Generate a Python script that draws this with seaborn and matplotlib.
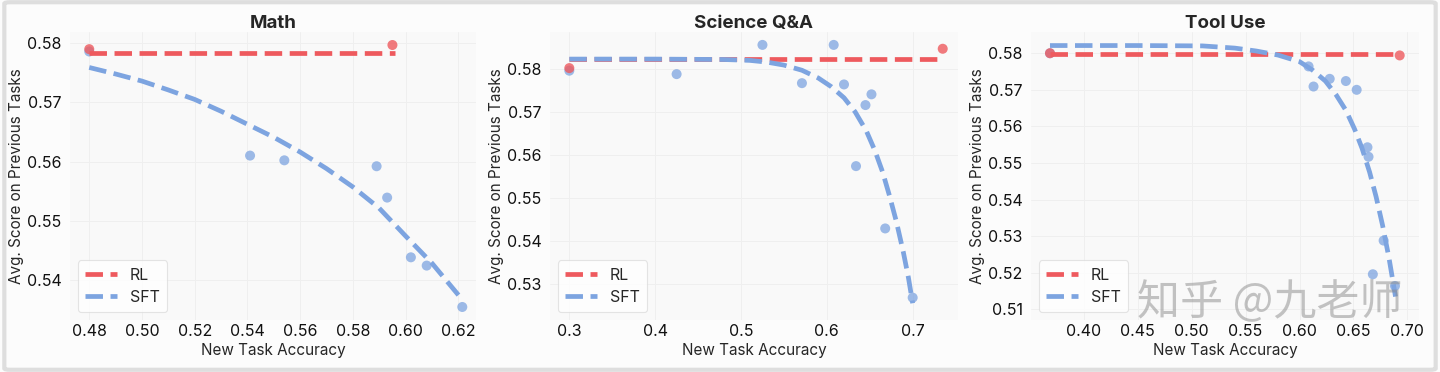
import seaborn as sns
import numpy as np
import matplotlib.pyplot as plt
import pandas as pd
from matplotlib.lines import Line2D
from matplotlib.patches import FancyBboxPatch

# ---------------- data ----------------
# Math
math_rl_x = [0.480, 0.595]
math_rl_y = [0.5790, 0.5797]
math_rl_fit_x = [0.480, 0.596]
math_rl_fit_y = [0.5783, 0.5783]
math_sft_x = [0.480, 0.541, 0.554, 0.589, 0.593, 0.602, 0.608, 0.6215]
math_sft_y = [0.5786, 0.5610, 0.5602, 0.5592, 0.5539, 0.5438, 0.5424, 0.5354]
math_fit_x = [0.480, 0.490, 0.500, 0.510, 0.520, 0.530, 0.540, 0.550, 0.560, 0.570,
              0.580, 0.590, 0.600, 0.610, 0.621]
math_fit_y = [0.5759, 0.5748, 0.5736, 0.5721, 0.5705, 0.5685, 0.5663, 0.5641, 0.5616, 0.5588,
              0.5557, 0.5521, 0.5474, 0.5428, 0.5369]

# Science Q&A
sci_rl_x = [0.300, 0.735]
sci_rl_y = [0.5802, 0.5847]
sci_rl_fit_x = [0.300, 0.735]
sci_rl_fit_y = [0.58225, 0.58225]
sci_sft_x = [0.300, 0.425, 0.525, 0.571, 0.608, 0.620, 0.634, 0.645, 0.652, 0.668, 0.700]
sci_sft_y = [0.5796, 0.5788, 0.5856, 0.5767, 0.5856, 0.5764, 0.5574, 0.5716, 0.5741, 0.5429, 0.5268]
sci_fit_x = [0.300, 0.400, 0.480, 0.510, 0.530, 0.550, 0.571, 0.590, 0.605, 0.620, 0.633,
             0.646, 0.656, 0.665, 0.673, 0.681, 0.689, 0.695, 0.700]
sci_fit_y = [0.5823, 0.5823, 0.5822, 0.5820, 0.5816, 0.5809, 0.5797, 0.5779, 0.5759, 0.5733, 0.5700,
             0.5656, 0.5610, 0.5560, 0.5505, 0.5445, 0.5375, 0.5315, 0.5255]

# Tool Use
tool_rl_x = [0.3686, 0.6929]
tool_rl_y = [0.5800, 0.5794]
tool_rl_fit_x = [0.3686, 0.6929]
tool_rl_fit_y = [0.5797, 0.5797]
tool_sft_x = [0.3686, 0.6084, 0.613, 0.628, 0.643, 0.653, 0.663, 0.664, 0.668, 0.678, 0.6885]
tool_sft_y = [0.5800, 0.5764, 0.5709, 0.5730, 0.5724, 0.5700, 0.5543, 0.5517, 0.5196, 0.5288, 0.5164]
tool_fit_x = [0.3686, 0.450, 0.510, 0.540, 0.560, 0.580, 0.600, 0.612, 0.624, 0.634, 0.643,
              0.651, 0.658, 0.665, 0.671, 0.677, 0.683, 0.689]
tool_fit_y = [0.5821, 0.5821, 0.5820, 0.5814, 0.5806, 0.5795, 0.5777, 0.5754, 0.5724, 0.5686, 0.5644,
              0.5593, 0.5540, 0.5475, 0.5408, 0.5330, 0.5240, 0.5135]

panels = [
    ("Math", math_rl_x, math_rl_y, math_rl_fit_x, math_rl_fit_y,
     math_sft_x, math_sft_y, math_fit_x, math_fit_y,
     [0.48, 0.50, 0.52, 0.54, 0.56, 0.58, 0.60, 0.62], [0.54, 0.55, 0.56, 0.57, 0.58],
     (0.4727, 0.6267), (0.5332, 0.5819)),
    ("Science Q&A", sci_rl_x, sci_rl_y, sci_rl_fit_x, sci_rl_fit_y,
     sci_sft_x, sci_sft_y, sci_fit_x, sci_fit_y,
     [0.3, 0.4, 0.5, 0.6, 0.7], [0.53, 0.54, 0.55, 0.56, 0.57, 0.58],
     (0.2775, 0.7528), (0.5216, 0.5886)),
    ("Tool Use", tool_rl_x, tool_rl_y, tool_rl_fit_x, tool_rl_fit_y,
     tool_sft_x, tool_sft_y, tool_fit_x, tool_fit_y,
     [0.40, 0.45, 0.50, 0.55, 0.60, 0.65, 0.70], [0.51, 0.52, 0.53, 0.54, 0.55, 0.56, 0.57, 0.58],
     (0.351, 0.7108), (0.5071, 0.5858)),
]

red = '#EE5A5E'
blue = '#7DA4E0'

sns.set_theme(style="whitegrid")
plt.rcParams['font.family'] = ['Inter', 'DejaVu Sans']

fig = plt.figure(figsize=(14.4, 3.72), dpi=100, facecolor='#fcfcfc')

# axes boxes in pixels (left, right)
boxes = [(70, 476), (550, 958), (1031, 1419)]
W, H = 1440, 372
bottom, top = 320, 32

for (title, rx, ry, rfx, rfy, sx, sy, fx, fy, xt, yt, xl, yl), (l, r) in zip(panels, boxes):
    ax = fig.add_axes([l / W, (H - bottom) / H, (r - l) / W, (bottom - top) / H])
    ax.set_facecolor('#f9f9f9')

    sns.lineplot(x=rfx, y=rfy, ax=ax, color=red, lw=3.4, linestyle='--', sort=False, estimator=None)
    sns.lineplot(x=fx, y=fy, ax=ax, color=blue, lw=3.4, linestyle='--', sort=False, estimator=None)
    sns.scatterplot(x=sx, y=sy, ax=ax, color=blue, s=52, alpha=0.75, edgecolor='none')
    sns.scatterplot(x=rx, y=ry, ax=ax, color=red, s=52, alpha=0.8, edgecolor='none')

    ax.set_xticks(xt)
    ax.set_yticks(yt)
    ax.set_xlim(*xl)
    ax.set_ylim(*yl)
    for s in ax.spines.values():
        s.set_visible(False)
    ax.grid(True, color='#efefef', lw=0.7)
    ax.tick_params(axis='both', which='both', length=3, width=0.8, color='#aaaaaa',
                   labelsize=11.5, pad=3, labelcolor='#111111')
    ax.tick_params(axis='x', direction='in', length=2)
    ax.set_title(title, fontsize=13.5, fontweight='bold', pad=3)
    ax.set_xlabel('New Task Accuracy', fontsize=11, labelpad=3)
    ax.set_ylabel('Avg. Score on Previous Tasks', fontsize=11, labelpad=2)

    handles = [Line2D([], [], color=red, lw=3.4, linestyle='--'),
               Line2D([], [], color=blue, lw=3.4, linestyle='--')]
    leg = ax.legend(handles, ['RL', 'SFT'], loc='lower left', fontsize=11.5,
                    frameon=True, facecolor='white', edgecolor='#dddddd',
                    handlelength=2.0, handletextpad=0.8, borderpad=0.45, labelspacing=0.45,
                    borderaxespad=0.5)
    leg.get_frame().set_linewidth(0.8)

# watermark
fig.text(1270 / W, 1 - 303 / H, '知乎 @九老师', fontsize=31, color='#8a8a8a', alpha=0.5,
         ha='center', va='center', family=['Noto Sans CJK SC', 'DejaVu Sans'])

# outer frame
fig.patches.append(FancyBboxPatch((0.003, 0.006), 0.994, 0.988, boxstyle='round,pad=0,rounding_size=0.004',
                                  transform=fig.transFigure, fill=False, edgecolor='#dedede', lw=3))

fig.savefig('out.png', dpi=100, facecolor=fig.get_facecolor())
